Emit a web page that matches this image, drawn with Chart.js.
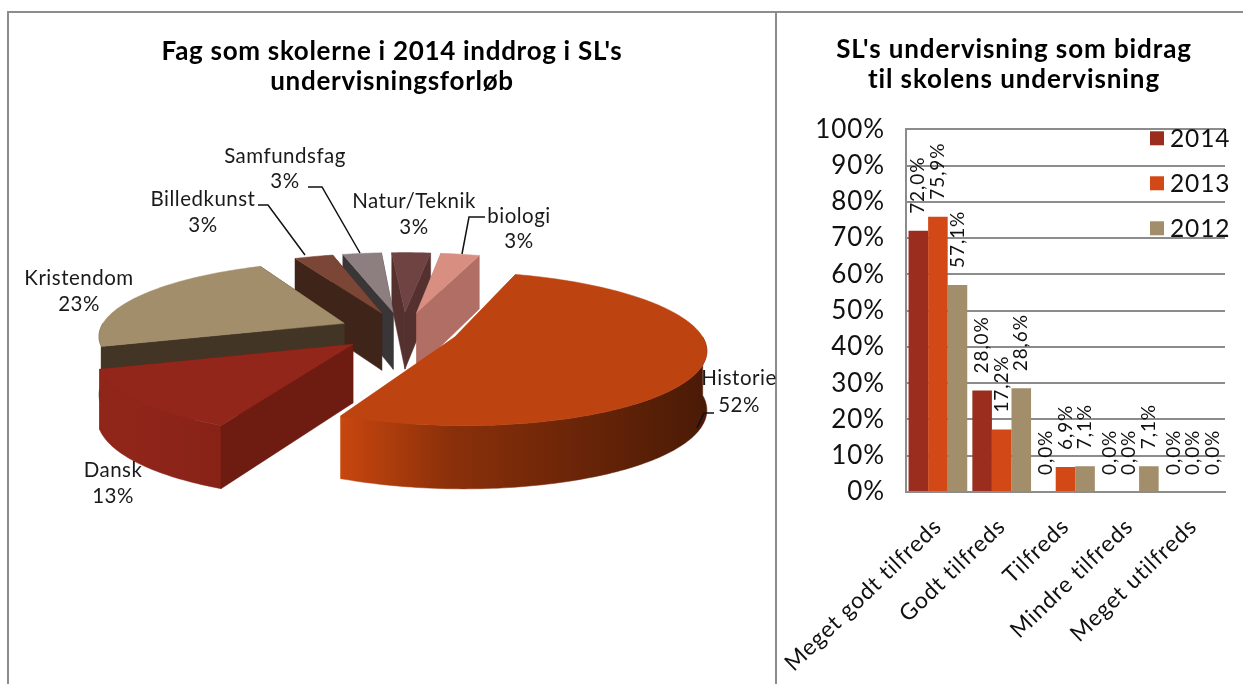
<!DOCTYPE html>
<html>
<head>
<meta charset="utf-8">
<title>SL undervisning</title>
<script src="https://cdn.jsdelivr.net/npm/chart.js@4"></script>
<style>
  html, body { margin: 0; padding: 0; background: #fff; }
  body { width: 1243px; height: 684px; position: relative; overflow: hidden; }
  .frame { position: absolute; background: #8c8c8c; }
  #pie { position: absolute; left: 0; top: 0; }
  #bars { position: absolute; left: 776px; top: 0; }
</style>
</head>
<body>
<div class="frame" style="left:7px;top:11px;width:1236px;height:2px"></div>
<div class="frame" style="left:7px;top:11px;width:2px;height:673px"></div>
<div class="frame" style="left:775px;top:11px;width:2px;height:673px"></div>
<canvas id="pie" width="784" height="684"></canvas>
<canvas id="bars" width="467" height="684"></canvas>
<script>
// left chart
var subjects = ["Historie", "Dansk", "Kristendom", "Billedkunst", "Samfundsfag", "Natur/Teknik", "biologi"];
var subjectShares = [52, 13, 23, 3, 3, 3, 3];

// right chart
var answers = ["Meget godt tilfreds", "Godt tilfreds", "Tilfreds", "Mindre tilfreds", "Meget utilfreds"];
var share2014 = [72.0, 28.0, 0.0, 0.0, 0.0];
var share2013 = [75.9, 17.2, 6.9, 0.0, 0.0];
var share2012 = [57.1, 28.6, 7.1, 7.1, 0.0];

var FONT = "Lato, 'Open Sans', sans-serif";

// styling of the slices
var topColors = ["#bd4310", "#93261a", "#a28e6a", "#7c4636", "#8d7e7f", "#6e4341", "#d88f82"];
var cutColors = ["#c8460f", "#6e1b11", "#433525", "#3f2419", "#3a3638", "#54302f", "#b06e64"];
var rimColors = [["#c8460f", "#8a300a", "#4a1a06"], ["#90251a", "#90251a", "#872217"], ["#433525", "#433525", "#433525"],
                 ["#3f2419", "#3f2419", "#3f2419"], ["#3a3638", "#3a3638", "#3a3638"], ["#54302f", "#54302f", "#54302f"], ["#b06e64", "#b06e64", "#b06e64"]];
var view = { x: 403, y: 331, squash: 0.30, perspective: 0.0006, depth: 58 };

// where the pie labels sit: [centre x, first line y, second line y]
var labelSpots = [[739, 378, 405], [113, 470, 496], [79, 278, 304], [203, 199, 225], [285, 156, 181], [414, 201, 227], [519, 216, 241]];
var leaders = [
  [[714, 413], [704, 413], [697, 428]],
  [[258, 205], [268, 205], [305, 255]],
  [[308, 187], [322, 187], [360, 253]],
  [[485, 217], [469, 217], [462, 254]]
];

function project(u, v, drop) {
  var w = 1 - view.perspective * v;
  return { x: view.x + u / w, y: view.y + view.squash * v / w + (drop ? view.depth / Math.sqrt(w) : 0) };
}

function arcPoints(el, off, from, to) {
  var pts = [];
  var n = Math.max(2, Math.ceil((to - from) / 0.02));
  for (var i = 0; i <= n; i++) {
    var a = from + (to - from) * i / n;
    pts.push({ u: off.u + Math.cos(a) * el.outerRadius, v: off.v + Math.sin(a) * el.outerRadius, front: Math.sin(a) > -0.02 });
  }
  return pts;
}

function fillPoly(ctx, pts, fill) {
  ctx.beginPath();
  pts.forEach(function (p, i) { if (i) ctx.lineTo(p.x, p.y); else ctx.moveTo(p.x, p.y); });
  ctx.closePath();
  ctx.fillStyle = fill;
  ctx.fill();
  ctx.strokeStyle = fill;
  ctx.lineWidth = 0.5;
  ctx.stroke();
}

function cutWall(ctx, off, end, color) {
  fillPoly(ctx, [project(off.u, off.v), project(end.u, end.v), project(end.u, end.v, true), project(off.u, off.v, true)], color);
}

var pie3d = {
  id: "pie3d",
  beforeDraw: function (chart) { chart.ctx.letterSpacing = "0.7px"; },
  beforeDatasetsDraw: function (chart) {
    var ctx = chart.ctx;
    var arcs = chart.getDatasetMeta(0).data;
    var order = arcs.map(function (el, i) { return i; });
    // the library's arc gives angles, radius and explode distance, we only tilt it
    var offs = arcs.map(function (el) {
      var mid = (el.startAngle + el.endAngle) / 2;
      var d = el.options.offset / 2;
      return { u: Math.cos(mid) * d, v: Math.sin(mid) * d };
    });
    order.sort(function (a, b) { return offs[a].v - offs[b].v; });
    ctx.save();
    order.forEach(function (i) {
      var el = arcs[i], off = offs[i];
      var rim = arcPoints(el, off, el.startAngle, el.endAngle);
      var first = rim[0], last = rim[rim.length - 1];
      // walls turned away go first
      var startSeen = Math.cos(el.startAngle) < 0, endSeen = Math.cos(el.endAngle) > 0;
      if (!startSeen) cutWall(ctx, off, first, cutColors[i]);
      if (!endSeen) cutWall(ctx, off, last, cutColors[i]);
      // only the part of the rim facing us
      var seen = rim.filter(function (p) { return p.front; });
      if (seen.length > 1) {
        var low = seen.map(function (p) { return project(p.u, p.v, true); });
        var up = seen.map(function (p) { return project(p.u, p.v); }).reverse();
        var xs = low.map(function (p) { return p.x; });
        var g = ctx.createLinearGradient(Math.min.apply(null, xs), 0, Math.max.apply(null, xs), 0);
        g.addColorStop(0, rimColors[i][0]);
        g.addColorStop(0.3, rimColors[i][1]);
        g.addColorStop(1, rimColors[i][2]);
        fillPoly(ctx, low.concat(up), g);
      }
      if (startSeen) cutWall(ctx, off, first, cutColors[i]);
      if (endSeen) cutWall(ctx, off, last, cutColors[i]);
      var face = [project(off.u, off.v)].concat(rim.map(function (p) { return project(p.u, p.v); }));
      fillPoly(ctx, face, topColors[i]);
    });
    ctx.restore();
    return false;
  },
  afterDraw: function (chart) {
    var ctx = chart.ctx;
    ctx.save();
    ctx.strokeStyle = "#111";
    ctx.lineWidth = 1.5;
    leaders.forEach(function (line) {
      ctx.beginPath();
      line.forEach(function (p, i) { if (i) ctx.lineTo(p[0], p[1]); else ctx.moveTo(p[0], p[1]); });
      ctx.stroke();
    });
    ctx.fillStyle = "#1a1a1a";
    ctx.font = "20.5px " + FONT;
    ctx.letterSpacing = "0.5px";
    ctx.textAlign = "center";
    ctx.textBaseline = "middle";
    subjects.forEach(function (name, i) {
      ctx.fillText(name, labelSpots[i][0], labelSpots[i][1]);
      ctx.fillText(subjectShares[i] + "%", labelSpots[i][0], labelSpots[i][2]);
    });
    ctx.restore();
  }
};

new Chart(document.getElementById("pie"), {
  type: "pie",
  data: {
    labels: subjects,
    datasets: [{
      data: subjectShares,
      backgroundColor: topColors,
      offset: [110, 130, 130, 130, 130, 130, 130],
      borderWidth: 0
    }]
  },
  options: {
    responsive: false,
    animation: false,
    rotation: 18,
    radius: 245,
    plugins: {
      legend: { display: false },
      tooltip: { enabled: false },
      title: {
        display: true,
        text: ["Fag som skolerne i 2014 inddrog i SL's", "undervisningsforløb"],
        color: "#000",
        font: { family: FONT, size: 26, weight: "bold", lineHeight: 1.14 },
        padding: { top: 37, bottom: 10 }
      }
    }
  },
  plugins: [pie3d]
});

var barExtras = {
  id: "barExtras",
  beforeDraw: function (chart) { chart.ctx.letterSpacing = "0.9px"; },
  afterDatasetsDraw: function (chart) {
    var ctx = chart.ctx;
    ctx.save();
    ctx.fillStyle = "#111";
    ctx.font = "19px " + FONT;
    ctx.textAlign = "left";
    ctx.textBaseline = "middle";
    chart.data.datasets.forEach(function (ds, d) {
      chart.getDatasetMeta(d).data.forEach(function (bar, i) {
        ctx.save();
        ctx.translate(bar.x, bar.y - 17);
        ctx.rotate(-Math.PI / 2);
        ctx.fillText(ds.data[i].toFixed(1).replace(".", ",") + "%", 0, 0);
        ctx.restore();
      });
    });
    // legend sits inside the plot
    ctx.font = "24.5px " + FONT;
    chart.data.datasets.forEach(function (ds, d) {
      var y = chart.chartArea.top + 2 + d * 45;
      ctx.fillStyle = ds.backgroundColor;
      ctx.fillRect(chart.chartArea.right - 75, y, 14, 14);
      ctx.fillStyle = "#111";
      ctx.fillText(ds.label, chart.chartArea.right - 55, y + 8);
    });
    ctx.restore();
  }
};

new Chart(document.getElementById("bars"), {
  type: "bar",
  data: {
    labels: answers,
    datasets: [
      { label: "2014", data: share2014, backgroundColor: "#9b2d1f" },
      { label: "2013", data: share2013, backgroundColor: "#d34817" },
      { label: "2012", data: share2012, backgroundColor: "#a28e6a" }
    ]
  },
  options: {
    responsive: false,
    animation: false,
    layout: { padding: { left: 27, right: 18 } },
    datasets: { bar: { barPercentage: 1, categoryPercentage: 0.92 } },
    scales: {
      x: {
        // long rotated labels must not push the plot to the right
        afterFit: function (scale) { scale.height = 192; scale.paddingLeft = 0; scale.paddingRight = 0; },
        grid: { display: false },
        border: { color: "#8c8c8c", width: 2 },
        ticks: { color: "#111", font: { family: FONT, size: 22.7 }, minRotation: 44, maxRotation: 44, autoSkip: false, padding: 13 }
      },
      y: {
        min: 0,
        max: 100,
        afterFit: function (scale) { scale.width = 103; },
        grid: { color: "#8c8c8c", lineWidth: 2, drawTicks: false },
        border: { color: "#8c8c8c", width: 2 },
        ticks: {
          stepSize: 10,
          color: "#111",
          font: { family: FONT, size: 26 },
          padding: 21,
          callback: function (value) { return value + "%"; }
        }
      }
    },
    plugins: {
      legend: { display: false },
      tooltip: { enabled: false },
      title: {
        display: true,
        text: ["SL's undervisning som bidrag", "til skolens undervisning"],
        color: "#000",
        font: { family: FONT, size: 26, weight: "bold", lineHeight: 1.14 },
        padding: { top: 35, bottom: 35 }
      }
    }
  },
  plugins: [barExtras]
});
</script>
</body>
</html>
